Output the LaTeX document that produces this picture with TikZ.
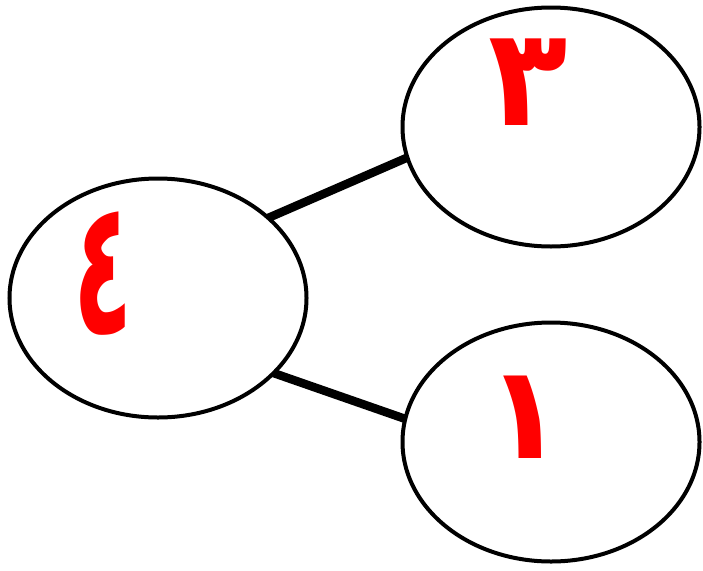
\documentclass[tikz,border=0pt]{standalone}
\usepackage{fontspec}
\newfontfamily\arabicfont[Script=Arabic]{DejaVu Sans}
\usetikzlibrary{shapes.geometric}
\begin{document}
\begin{tikzpicture}[x=1pt,y=-1pt,
  oval/.style={ellipse,draw=black,line width=4pt,minimum width=297pt,minimum height=239pt,inner sep=0pt,outer sep=0pt,fill=white},
  link/.style={line width=8.5pt,draw=black},
  digit/.style={text=red,font=\arabicfont\bfseries\fontsize{130}{130}\selectfont,inner sep=0pt}]
\useasboundingbox (0,0) rectangle (703,570);
\fill[white] (0,0) rectangle (703,570);
\node[oval] (L) at (158,298) {};
\node[oval] (T) at (551,127) {};
\node[oval] (B) at (551,442) {};
\draw[link] (L.36) -- (T.192);
\draw[link] (L.-33) -- (B.171);
\node[digit,xscale=0.75,yscale=1.45] (d4) at (103,274) {٤};
\node[digit,yscale=1.05] (d3) at (528,82) {٣};
\node[digit] (d1) at (525,417) {١};
\end{tikzpicture}
\end{document}
